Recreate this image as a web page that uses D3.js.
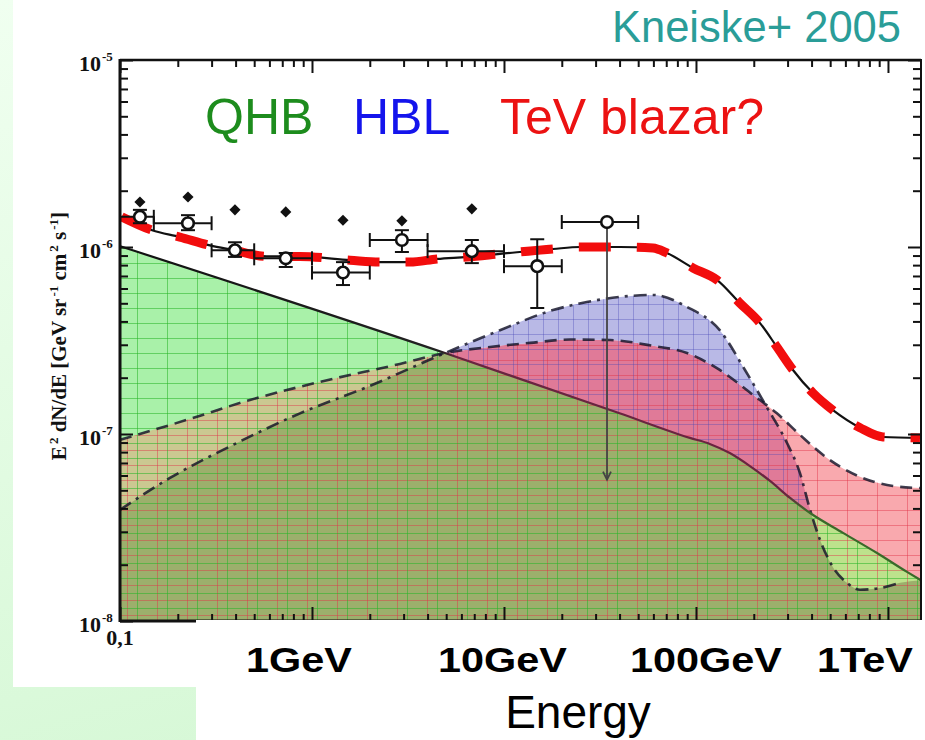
<!DOCTYPE html>
<html>
<head>
<meta charset="utf-8">
<script src="https://cdn.jsdelivr.net/npm/d3@7"></script>
<style>
  html, body { margin: 0; padding: 0; background: #fff; }
  svg { display: block; }
</style>
</head>
<body>
<svg id="chart" width="925" height="740"></svg>
<script>
// Energy E in GeV, flux E^2 dN/dE in GeV sr^-1 cm^-2 s^-1

// QHB component (solid line, green fill)
const qhbCurve = [[0.1,1.01e-6],[4.93,2.71e-7],[40,1.29e-7],[93,9.53e-8],[118,8.85e-8],[150,7.91e-8],
  [191,6.74e-8],[243,5.61e-8],[309,4.55e-8],[393,3.78e-8],[583,2.96e-8],[877,2.31e-8],[1256,1.83e-8],[1486,1.65e-8]];

// dashed component (red fill)
const dashedCurve = [[0.1,9.3e-8],[0.223,1.19e-7],[0.475,1.52e-7],[1.10,1.9e-7],[2.87,2.37e-7],[4.93,2.71e-7],
  [8.46,2.92e-7],[13.7,3.07e-7],[22.1,3.2e-7],[35.7,3.18e-7],[59.7,2.96e-7],[89.8,2.71e-7],[133,2.2e-7],
  [198,1.62e-7],[264,1.29e-7],[348,9.9e-8],[481,7.45e-8],[715,5.9e-8],[1062,5.27e-8],[1486,5.14e-8]];

// dash-dot component (blue fill)
const dashDotCurve = [[0.1,3.93e-8],[0.182,5.82e-8],[0.406,8.95e-8],[0.866,1.29e-7],[1.93,1.78e-7],[4.93,2.71e-7],
  [9.53,3.59e-7],[18.0,4.6e-7],[27.0,5.08e-7],[40.2,5.41e-7],[59.7,5.54e-7],[89.8,4.78e-7],[133,3.59e-7],
  [180,2.2e-7],[234,1.39e-7],[298,8.95e-8],[348,6.18e-8],[393,3.93e-8],[443,2.71e-8],[517,1.94e-8],
  [611,1.6e-8],[715,1.47e-8],[908,1.5e-8],[1156,1.6e-8],[1486,1.65e-8]];

// total background (black line with thick red dashes on top)
const totalCurve = [[0.102,1.45e-6],[0.147,1.23e-6],[0.205,1.13e-6],[0.294,1.02e-6],[0.388,9.64e-7],[0.583,8.9e-7],
  [0.866,8.9e-7],[1.58,8.5e-7],[2.26,8.31e-7],[3.24,8.31e-7],[4.48,8.63e-7],[6.42,8.85e-7],[9.53,9.19e-7],
  [18.0,9.76e-7],[24.9,1.0e-6],[40.2,1.0e-6],[59.7,9.88e-7],[70.6,9.29e-7],[96.4,7.73e-7],[128.5,6.67e-7],
  [169,5.02e-7],[215,3.93e-7],[264,2.92e-7],[320,2.2e-7],[406,1.66e-7],[517,1.34e-7],[715,1.08e-7],
  [942,9.64e-8],[1468,9.52e-8]];

// measured background: bins, flux and errors (open circles)
const binLow   = [0.1, 0.15, 0.3, 0.5, 1, 2, 4, 10, 20];
const binHigh  = [0.15, 0.3, 0.5, 1, 2, 4, 10, 20, 50];
const binE     = [0.127, 0.226, 0.397, 0.73, 1.45, 2.94, 6.8, 14.9, 34.4];
const flux     = [1.45e-6, 1.34e-6, 9.6e-7, 8.7e-7, 7.3e-7, 1.09e-6, 9.5e-7, 7.9e-7, 1.36e-6];
const fluxLow  = [1.34e-6, 1.23e-6, 8.85e-7, 7.82e-7, 6.26e-7, 9.4e-7, 8.2e-7, 4.72e-7, null];
const fluxHigh = [1.58e-6, 1.48e-6, 1.06e-6, 9.29e-7, 8.3e-7, 1.23e-6, 1.09e-6, 1.10e-6, null];
const upperLimitEnd = [null, null, null, null, null, null, null, null, 5.7e-8];

// earlier estimate (filled diamonds)
const diamondE    = [0.127, 0.226, 0.397, 0.73, 1.45, 2.94, 6.8];
const diamondFlux = [1.74e-6, 1.85e-6, 1.58e-6, 1.54e-6, 1.39e-6, 1.38e-6, 1.60e-6];

// axis labels
const decadeE      = [0.1, 1, 10, 100, 1000];
const energyLabels = ["1GeV", "10GeV", "100GeV", "1TeV"];
const energyLabelE = [1, 10, 100, 1000];
const yExponents   = [-5, -6, -7, -8];
const legendNames  = ["QHB", "HBL", "TeV blazar?"];
const legendColors = ["#1d8c1d", "#1414ec", "#ec1212"];

const W = 925, H = 740;
const svg = d3.select("#chart");
const defs = svg.append("defs");

const x = d3.scaleLog().domain([0.1, 1486]).range([120, 921]);
const y = d3.scaleLog().domain([1e-8, 1e-5]).range([621, 60]);
const [x0, x1] = x.range();
const [yB, yT] = y.range();

// slide background
const bg = defs.append("linearGradient").attr("id", "slideBg")
  .attr("x1", 0).attr("y1", 0).attr("x2", 0.35).attr("y2", 1);
bg.append("stop").attr("offset", 0).attr("stop-color", "#f0fff0");
bg.append("stop").attr("offset", 1).attr("stop-color", "#d6f8d6");
svg.append("rect").attr("width", W).attr("height", H).attr("fill", "url(#slideBg)");
svg.append("rect").attr("x", 13).attr("y", 0).attr("width", W - 13).attr("height", 687).attr("fill", "#fff");

// curve generators in log-log space
const px = d => x(d[0]), py = d => y(d[1]);
const line = d3.line().x(px).y(py).curve(d3.curveMonotoneX);
const below = d3.area().x(px).y0(yB).y1(py).curve(d3.curveMonotoneX);
const above = d3.area().x(px).y0(yT).y1(py).curve(d3.curveMonotoneX);

function clip(id, d) {
  defs.append("clipPath").attr("id", id).append("path").attr("d", d);
  return `url(#${id})`;
}
const underQ = clip("underQ", below(qhbCurve));
const overQ  = clip("overQ", above(qhbCurve));
const underR = clip("underR", below(dashedCurve));
const overR  = clip("overR", above(dashedCurve));
const underB = clip("underB", below(dashDotCurve));

function grid(id, dx, dy, ox, oy, color) {
  const p = defs.append("pattern").attr("id", id).attr("patternUnits", "userSpaceOnUse")
    .attr("width", dx).attr("height", dy).attr("x", ox).attr("y", oy);
  p.append("line").attr("x1", 0.5).attr("x2", 0.5).attr("y1", 0).attr("y2", dy)
    .attr("stroke", color).attr("stroke-width", 1);
  p.append("line").attr("x1", 0).attr("x2", dx).attr("y1", 0.5).attr("y2", 0.5)
    .attr("stroke", color).attr("stroke-width", 1);
  return `url(#${id})`;
}
const greenGrid = grid("greenGrid", 30, 15, 137, 8, "rgba(40,180,40,0.55)");
const redGrid   = grid("redGrid", 30, 15, 127, 0, "rgba(225,50,70,0.45)");
const blueGrid  = grid("blueGrid", 15, 15, 3, 4, "rgba(70,70,180,0.35)");

const plotRect = (g, fill) => g.append("rect").attr("x", x0).attr("y", yT)
  .attr("width", x1 - x0).attr("height", yB - yT).attr("fill", fill);

// filled regions (below QHB)
const gQ = svg.append("g").attr("clip-path", underQ);
plotRect(gQ, "#a9f1a9");
const gQR = gQ.append("g").attr("clip-path", underR);
plotRect(gQR, "#cbc891");
gQR.append("rect").attr("x", x(200)).attr("y", yT).attr("width", x1 - x(200))
  .attr("height", yB - yT).attr("fill", "#bde28c");
const gQRB = gQR.append("g").attr("clip-path", underB);
plotRect(gQRB, "#9caf6c");
plotRect(gQ, greenGrid);
plotRect(gQR, redGrid);

// filled regions (above QHB)
const gA = svg.append("g").attr("clip-path", overQ);
const gAR = gA.append("g").attr("clip-path", underR);
plotRect(gAR, "#f9a9ae");
const gARB = gAR.append("g").attr("clip-path", underB);
plotRect(gARB, "#e07a98");
const gAB = gA.append("g").attr("clip-path", overR).append("g").attr("clip-path", underB);
plotRect(gAB, "#b9b9e6");
const gABall = gA.append("g").attr("clip-path", underB);
plotRect(gABall, blueGrid);
plotRect(gAR, redGrid);

// component lines
svg.append("path").attr("d", line(dashedCurve)).attr("fill", "none")
  .attr("stroke", "rgba(20,20,40,0.82)").attr("stroke-width", 2.6).attr("stroke-dasharray", "12,7");
svg.append("path").attr("d", line(dashDotCurve.slice(0, -1))).attr("fill", "none")
  .attr("stroke", "rgba(20,20,40,0.82)").attr("stroke-width", 2.6).attr("stroke-dasharray", "13,6,3,6");
const qg = defs.append("linearGradient").attr("id", "qhbStroke").attr("gradientUnits", "userSpaceOnUse")
  .attr("x1", x0).attr("x2", x1).attr("y1", 0).attr("y2", 0);
[[0, "#111"], [0.4, "#222"], [0.42, "#6a2440"], [0.83, "#6a2440"], [0.86, "#3a6a2a"], [1, "#3a6a2a"]]
  .forEach(([o, c]) => qg.append("stop").attr("offset", o).attr("stop-color", c));
svg.append("path").attr("d", line(qhbCurve)).attr("fill", "none")
  .attr("stroke", "url(#qhbStroke)").attr("stroke-width", 2.2);

// total model
svg.append("path").attr("d", line(totalCurve)).attr("fill", "none")
  .attr("stroke", "#111").attr("stroke-width", 2.2);
svg.append("path").attr("d", line(totalCurve)).attr("fill", "none")
  .attr("stroke", "#f20d0d").attr("stroke-width", 9).attr("stroke-dasharray", "32,26");

// frame and ticks
const axes = svg.append("g").attr("stroke", "#111").attr("fill", "none");
const minorE = [];
decadeE.forEach(d => { for (let k = 2; k <= 9; k++) if (d * k <= 1486) minorE.push(d * k); });
const minorV = [];
[1e-8, 1e-7, 1e-6].forEach(d => { for (let k = 2; k <= 9; k++) minorV.push(d * k); });
const majorV = [1e-8, 1e-7, 1e-6, 1e-5];

function ticks(axisFn, scale, values, size, tx, ty) {
  const a = axisFn(scale).tickValues(values).tickSize(size).tickFormat("");
  const g = svg.append("g").attr("transform", `translate(${tx},${ty})`).call(a);
  g.select(".domain").remove();
  g.selectAll("line").attr("stroke", "#111").attr("stroke-width", 2);
}
ticks(d3.axisTop, x, minorE, -7, 0, yT);
ticks(d3.axisTop, x, decadeE, -13, 0, yT);
ticks(d3.axisBottom, x, minorE, -7, 0, yB);
ticks(d3.axisBottom, x, decadeE, -14, 0, yB);
ticks(d3.axisLeft, y, minorV, -8, x0, 0);
ticks(d3.axisLeft, y, majorV, -13, x0, 0);
ticks(d3.axisRight, y, minorV, -8, x1, 0);
ticks(d3.axisRight, y, majorV, -13, x1, 0);

axes.append("line").attr("x1", x0).attr("x2", x1).attr("y1", yT).attr("y2", yT).attr("stroke-width", 2.5);
axes.append("line").attr("x1", x0).attr("x2", x1).attr("y1", yB).attr("y2", yB).attr("stroke-width", 3);
axes.append("line").attr("x1", x0).attr("x2", x0).attr("y1", yT - 1).attr("y2", yB + 1).attr("stroke-width", 3);
axes.append("line").attr("x1", x1).attr("x2", x1).attr("y1", yT - 1).attr("y2", yB + 1).attr("stroke-width", 2);

// diamonds
svg.append("g").selectAll("path").data(diamondE).join("path")
  .attr("transform", (e, i) => `translate(${x(e)},${y(diamondFlux[i])}) rotate(45)`)
  .attr("d", d3.symbol(d3.symbolSquare, 62)()).attr("fill", "#111");

// measured points with error bars
const pts = svg.append("g").attr("stroke", "#111").attr("stroke-width", 2).attr("fill", "none");
binE.forEach((e, i) => {
  const cx = x(e), cy = y(flux[i]);
  const xl = x(binLow[i]), xh = x(binHigh[i]);
  pts.append("line").attr("x1", xl).attr("x2", xh).attr("y1", cy).attr("y2", cy);
  pts.append("line").attr("x1", xl).attr("x2", xl).attr("y1", cy - 7).attr("y2", cy + 7);
  pts.append("line").attr("x1", xh).attr("x2", xh).attr("y1", cy - 7).attr("y2", cy + 7);
  if (fluxLow[i] !== null) {
    const yl = y(fluxLow[i]), yh = y(fluxHigh[i]);
    pts.append("line").attr("x1", cx).attr("x2", cx).attr("y1", yh).attr("y2", yl);
    pts.append("line").attr("x1", cx - 7).attr("x2", cx + 7).attr("y1", yh).attr("y2", yh);
    pts.append("line").attr("x1", cx - 7).attr("x2", cx + 7).attr("y1", yl).attr("y2", yl);
  }
  if (upperLimitEnd[i] !== null) {
    const ye = y(upperLimitEnd[i]);
    pts.append("line").attr("x1", cx).attr("x2", cx).attr("y1", cy).attr("y2", ye)
      .attr("stroke", "#444").attr("stroke-width", 1.8);
    pts.append("path").attr("d", `M${cx - 4},${ye - 8}L${cx},${ye}L${cx + 4},${ye - 8}`)
      .attr("stroke", "#444").attr("stroke-width", 1.8);
  }
  pts.append("circle").attr("cx", cx).attr("cy", cy).attr("r", 5.8)
    .attr("fill", "#fff").attr("stroke-width", 2.6);
});

// y tick labels (powers of ten)
const serif = "'Liberation Serif', 'Times New Roman', serif";
const sans = "'Liberation Sans', Arial, Helvetica, sans-serif";
const yl = svg.append("g").attr("font-family", serif).attr("font-weight", "bold").attr("fill", "#111");
yExponents.forEach(p => {
  yl.append("text").attr("x", 101).attr("y", y(Math.pow(10, p)) + 11)
    .attr("text-anchor", "end").attr("font-size", 22).text("10");
  yl.append("text").attr("x", 102).attr("y", y(Math.pow(10, p)) + 1)
    .attr("font-size", 13).text(String(p));
});
yl.append("text").attr("x", x(0.1)).attr("y", yB + 24).attr("text-anchor", "middle")
  .attr("font-size", 22).text("0,1");

// y axis title
const yt = svg.append("text").attr("transform", "translate(66,336) rotate(-90)")
  .attr("text-anchor", "middle").attr("font-family", serif).attr("font-weight", "bold")
  .attr("font-size", 21).attr("fill", "#111");
[["E", 0], ["2", -8, true], [" dN/dE [GeV sr", 8], ["-1", -8, true], [" cm", 8], ["2", -8, true],
 [" s", 8], ["-1", -8, true], ["]", 8]].forEach(([s, dy, sup], i) => {
  yt.append("tspan").attr("dy", i === 0 ? 0 : dy).attr("font-size", sup ? 13 : 21)
    .attr("dx", sup ? 2 : 0).text(s);
});

// legend
const legendX = [205, 353, 500];
legendNames.forEach((n, i) => {
  svg.append("text").attr("x", legendX[i]).attr("y", 134).attr("font-family", sans)
    .attr("font-size", 50).attr("fill", legendColors[i]).text(n);
});
svg.append("text").attr("x", 901).attr("y", 42).attr("text-anchor", "end").attr("font-family", sans)
  .attr("font-size", 43.5).attr("fill", "#2a9d98").text("Kneiske+ 2005");

// energy labels box: each label starts a little left of its decade, kept inside the slide
svg.append("rect").attr("x", 196).attr("y", 620).attr("width", W - 196).attr("height", H - 620).attr("fill", "#fff");
const stretch = 1.15;
const el = svg.append("g").attr("font-family", sans).attr("font-weight", "bold")
  .attr("font-size", 36).attr("fill", "#000");
energyLabels.forEach((s, i) => {
  const t = el.append("text").text(s);
  const w = t.node().getComputedTextLength() * stretch;
  const left = Math.min(x(energyLabelE[i]) - 66, W - 12 - w);
  t.attr("transform", `translate(${left},672) scale(${stretch},1)`);
});
svg.append("text").attr("x", 578).attr("y", 728).attr("text-anchor", "middle")
  .attr("font-family", sans).attr("font-size", 46).attr("fill", "#000").text("Energy");
</script>
</body>
</html>
